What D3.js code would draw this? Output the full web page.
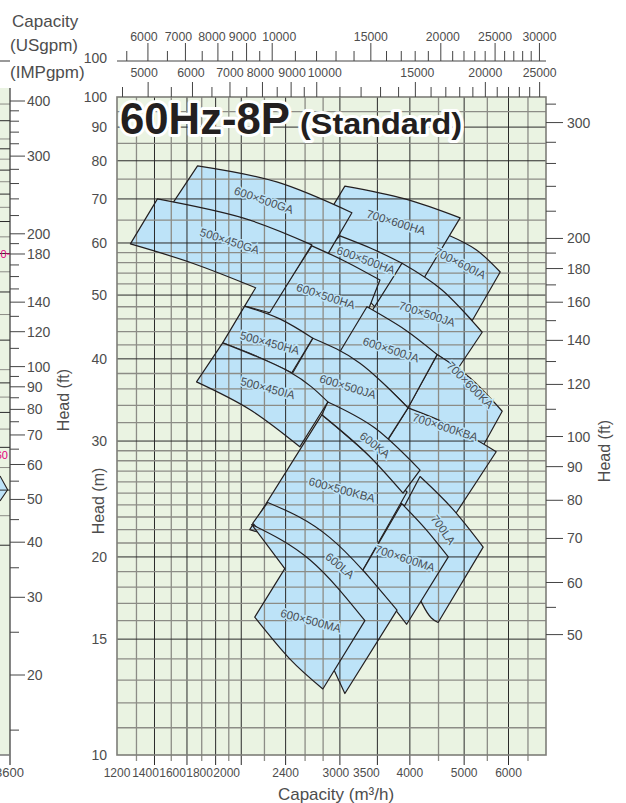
<!DOCTYPE html>
<html>
<head>
<meta charset="utf-8">
<script src="https://cdn.jsdelivr.net/npm/d3@7"></script>
<style>
  body { margin: 0; background: #fff; }
  svg { display: block; }
  text { font-family: "Liberation Sans", Arial, sans-serif; }
</style>
</head>
<body>
<svg id="chart" width="626" height="803"></svg>
<script>
// ---- axis definitions (m3/h, m) ----
const capDomain = [1200, 7000];
const headDomain = [10, 100];
const capLabels = [1200, 1400, 1600, 1800, 2000, 2400, 3000, 3500, 4000, 5000, 6000];
const capGrid = [1300, 1400, 1500, 1600, 1700, 1800, 1900, 2000, 2200, 2400, 2600, 2800, 3000,
                 3500, 4000, 4500, 5000, 5500, 6000, 6500];
const headLabels = [10, 15, 20, 30, 40, 50, 60, 70, 80, 90, 100];
const headGrid = [11, 12, 13, 14, 15, 16, 17, 18, 19, 20, 21, 22, 23, 24, 25, 26, 27, 28, 29, 30,
                  32, 34, 36, 38, 40, 42, 44, 46, 48, 50, 52, 54, 56, 58, 60, 65, 70, 75, 80, 85, 90, 95];
const ftLabels = [50, 60, 70, 80, 90, 100, 120, 140, 160, 180, 200, 300];
const ftMinor = [55, 110, 130, 150, 170, 190, 220, 240, 260, 280, 320];
const usgpmLabels = [6000, 7000, 8000, 9000, 10000, 15000, 20000, 25000, 30000];
const usgpmMinor = [5500, 6500, 7500, 8500, 9500, 11000, 12000, 13000, 14000, 16000, 17000, 18000,
                    19000, 21000, 22000, 23000, 24000, 26000, 27000, 28000, 29000];
const impLabels = [5000, 6000, 7000, 8000, 9000, 10000, 15000, 20000, 25000];
const impMinor = [4500, 5500, 6500, 7500, 8500, 9500, 11000, 12000, 13000, 14000, 16000, 17000,
                  18000, 19000, 21000, 22000, 23000, 24000];

// neighbouring 6P sheet: right-hand head scale (ft), grid (m) and the edge of one range
const sideFtLabels = [20, 30, 40, 50, 60, 70, 80, 90, 100, 120, 140, 180, 200, 300, 400];
const sideFtMinor = [15, 25, 35, 45, 55, 65, 75, 85, 95, 110, 130, 150, 160, 170, 190,
                     220, 240, 260, 280, 320, 340, 360, 380];
const sideHeadM = [12, 14, 16, 18, 20, 22, 24, 26, 28, 30, 35, 40, 45, 50, 55, 60, 65, 70, 75, 80,
                   85, 90, 95, 100, 110, 120];
const sideRangeEdge = [[3455, 56.5], [3565, 52.6], [3455, 49.6]];   // [m3/h, ft]

// ---- pump selection ranges, listed back to front ----
const pumpModels = ["700×600IA", "700×600HA", "600×500HA", "700×500JA", "600×500GA", "600×500HA",
  "500×450GA", "700×600KA", "700×600KBA", "600×500JA", "600×500JA", "500×450HA", "500×450IA",
  "600×500KBA", "600KA", "700LA", "700×600MA", "600LA", "600×500MA"];
// upper boundary (largest impeller), left to right [m3/h, m]
const maxCurve = [
  [[4681, 61.7], [5253, 58.6], [5799, 54.2]],
  [[3062, 73.2], [3921, 70.0], [4918, 65.5]],
  [[3000, 61.5], [3423, 58.8], [3873, 55.9]],
  [[3873, 55.9], [4565, 50.9], [5385, 43.9]],
  [[1671, 78.6], [2314, 74.3], [3152, 66.7]],
  [[2673, 59.4], [3075, 56.2], [3537, 52.7]],
  [[1417, 70.0], [2012, 65.5], [2673, 59.6]],
  [[4474, 40.6], [5125, 37.4], [5847, 33.3]],
  [[3970, 33.7], [4720, 31.7], [5704, 28.9]],
  [[3353, 48.0], [3921, 44.3], [4474, 40.6]],
  [[2684, 43.0], [3258, 39.4], [3970, 33.7]],
  [[2028, 48.1], [2343, 46.0], [2684, 43.0]],
  [[1853, 42.3], [2441, 38.2], [2855, 34.4]],
  [[2786, 32.9], [3325, 28.9], [3954, 25.1]],
  [[2855, 34.4], [3465, 31.4], [4171, 27.1]],
  [[4171, 26.5], [4759, 23.7], [5407, 20.7]],
  [[3868, 24.1], [4257, 22.1], [4685, 20.0]],
  [[2230, 24.2], [2879, 21.4], [3794, 16.6]],
  [[2088, 22.4], [2651, 19.8], [3325, 16.0]]
];
// lower boundary (smallest impeller), left to right [m3/h, m]
const minCurve = [
  [[4189, 52.2], [4720, 49.2], [5167, 45.7]],
  [[2695, 61.1], [3537, 57.3], [4189, 52.2]],
  [[2741, 56.7], [3126, 52.2], [3479, 47.8]],
  [[3423, 47.3], [4474, 40.6], [4858, 38.5]],
  [[1489, 67.8], [2071, 63.2], [2855, 57.7]],
  [[2175, 45.3], [2741, 41.3], [3152, 41.0]],
  [[1268, 59.8], [1637, 55.9], [2122, 51.3]],
  [[3970, 33.7], [4624, 31.2], [5296, 28.6]],
  [[3381, 27.1], [3921, 23.9], [4818, 23.2]],
  [[3000, 41.0], [3479, 37.5], [3970, 33.7]],
  [[2441, 37.4], [2820, 34.4], [3537, 28.9]],
  [[1853, 42.3], [2140, 40.3], [2462, 38.1]],
  [[1664, 36.9], [2071, 33.5], [2544, 29.4]],
  [[2071, 22.0], [2651, 20.6], [3298, 19.1]],
  [[2786, 32.9], [3325, 28.9], [3889, 25.0]],
  [[3716, 22.0], [4205, 17.0], [4493, 15.9]],
  [[3298, 19.1], [3611, 17.4], [3948, 15.8]],
  [[2096, 22.5], [2392, 19.2], [3062, 12.4]],
  [[2114, 16.2], [2441, 14.0], [2797, 12.6]]
];
// corners on the high-flow and low-flow limits, where the limit is not a single straight line
const rightBend = [null, null, null, null, null, null, [[2248, 47.0], [2028, 48.1]], null, null,
  null, null, null, null, null, null, null, null, null, null];
const leftBend = [null, null, null, null, null, null, null, null, null, null, null, null, null,
  null, null, null, null, null, [[2392, 19.2]]];
// where each model name sits [m3/h, m] and its slant in degrees
const labelAt = [[4918, 55.9], [3780, 64.5], [3339, 56.5], [4293, 46.8], [2194, 69.7], [2832, 49.8],
  [1907, 60.4], [5125, 36.5], [4624, 31.5], [3701, 41.3], [3100, 36.3], [2248, 42.3], [2230, 36.1],
  [3025, 25.3], [3465, 29.6], [4586, 22.0], [3921, 19.9], [3000, 19.4], [2662, 16.0]];
const labelTilt = [27, 17, 20, 18, 19, 18, 18, 45, 18, 18, 17, 15, 15, 15, 38, 55, 18, 40, 15];

// ---- unit factors ----
const USGPM_PER_M3H = 4.40287;
const IMPGPM_PER_M3H = 3.66615;
const FT_PER_M = 3.28084;

// small sideways nudges for crowded scale numbers (px)
const capNudge = { 1400: -9, 1600: -14.4, 1800: -16, 2000: -14.6, 3000: -4, 3500: -11 };
const usNudge = { 6000: -4, 7000: -7, 8000: -6, 9000: -4, 10000: 7, 20000: 2 };
const impNudge = { 5000: -4, 6000: -1.5, 8000: -2, 9000: 1, 10000: 8, 15000: 2 };

const svg = d3.select("#chart");
const box = { left: 117, right: 546, top: 97, bottom: 755 };
const x = d3.scaleLog().domain(capDomain).range([box.left, box.right]);
const y = d3.scaleLog().domain(headDomain).range([box.bottom, box.top]);
const yFt = d3.scaleLog().domain(headDomain.map(d => d * FT_PER_M)).range([box.bottom, box.top]);
const ySide = d3.scaleLog().domain([400, 20]).range([101, 675]);
const xSide = d3.scaleLog().domain([3600 / Math.pow(10, 0.7675), 3600]).range([-419, 10]);

const textCol = "#4d4d4d";
const darkLine = "#2a2a2a";
const greyLine = "#8c8c86";
const fillBlue = "#bde3f8";
const pink = "#e4007f";

// ---- neighbouring sheet strip on the far left ----
const side = svg.append("g");
side.append("rect").attr("x", 0).attr("y", 88).attr("width", 10).attr("height", 667).attr("fill", "#eaf3e2");
side.append("path")
  .attr("d", d3.line().x(d => xSide(d[0])).y(d => ySide(d[1]))(sideRangeEdge))
  .attr("fill", fillBlue).attr("stroke", "#231f20").attr("stroke-width", 1.1);
side.selectAll("line.sg").data(sideHeadM).join("line")
  .attr("x1", 0).attr("x2", 10)
  .attr("y1", d => ySide(d * FT_PER_M)).attr("y2", d => ySide(d * FT_PER_M))
  .attr("stroke", (d, i) => i % 2 ? greyLine : darkLine).attr("stroke-width", 1);
side.append("line").attr("x1", 10).attr("x2", 10).attr("y1", 88).attr("y2", 765).attr("stroke", "#333").attr("stroke-width", 1.2);
side.append("line").attr("x1", 0).attr("x2", 10).attr("y1", 755).attr("y2", 755).attr("stroke", "#777").attr("stroke-width", 1.5);
side.append("line").attr("x1", 0).attr("x2", 10).attr("y1", 61).attr("y2", 61).attr("stroke", "#555").attr("stroke-width", 1.2);
side.selectAll("line.st").data(sideFtLabels).join("line")
  .attr("x1", 10).attr("x2", 25).attr("y1", d => ySide(d)).attr("y2", d => ySide(d))
  .attr("stroke", "#444").attr("stroke-width", 1);
side.selectAll("line.sm").data(sideFtMinor).join("line")
  .attr("x1", 10).attr("x2", 19).attr("y1", d => ySide(d)).attr("y2", d => ySide(d))
  .attr("stroke", "#444").attr("stroke-width", 1);
side.selectAll("text.sl").data(sideFtLabels).join("text")
  .attr("x", 27).attr("y", d => ySide(d)).attr("dy", "0.36em")
  .attr("font-size", 14).attr("fill", textCol).text(d => d);
// model-size marks of the neighbouring sheet, cut by the page edge
side.append("text").attr("x", 0.5).attr("y", 258).attr("font-size", 11).attr("fill", pink).text("0");
side.append("line").attr("x1", 7).attr("x2", 10).attr("y1", 254).attr("y2", 254).attr("stroke", pink);
side.append("text").attr("x", 8).attr("y", 459).attr("text-anchor", "end").attr("font-size", 11)
  .attr("fill", pink).text("60");
side.append("text").attr("x", 24).attr("y", 777).attr("text-anchor", "end")
  .attr("font-size", 13).attr("fill", textCol).text("3600");
side.append("text").attr("transform", "translate(69,400) rotate(-90)").attr("text-anchor", "middle")
  .attr("font-size", 16).attr("fill", textCol).text("Head (ft)");

// ---- plot background ----
svg.append("rect").attr("x", box.left).attr("y", box.top)
  .attr("width", box.right - box.left).attr("height", box.bottom - box.top)
  .attr("fill", "#eaf3e2");

// ---- pump ranges ----
const edge = d3.line().x(d => x(d[0])).y(d => y(d[1])).curve(d3.curveNatural);
const pt = d => "L" + x(d[0]) + "," + y(d[1]);
function rangePath(i) {
  let p = edge(maxCurve[i]);
  if (rightBend[i]) p += rightBend[i].map(pt).join("");
  p += "L" + edge(minCurve[i].slice().reverse()).slice(1);
  if (leftBend[i]) p += leftBend[i].map(pt).join("");
  return p + "Z";
}
// fill every range first, grid on top, then outlines back to front
const fills = svg.append("g");
fills.selectAll("path").data(pumpModels).join("path")
  .attr("d", (d, i) => rangePath(i)).attr("fill", fillBlue);

// ---- grid ----
const grid = svg.append("g");
grid.selectAll("line.v").data(capGrid).join("line")
  .attr("x1", d => x(d)).attr("x2", d => x(d))
  .attr("y1", box.top).attr("y2", d => box.bottom + (capLabels.includes(d) ? 10 : 6))
  .attr("stroke", d => capLabels.includes(d) ? darkLine : greyLine)
  .attr("stroke-width", d => capLabels.includes(d) ? 1 : 1.3);
grid.selectAll("line.h").data(headGrid).join("line")
  .attr("x1", box.left).attr("x2", box.right)
  .attr("y1", d => y(d)).attr("y2", d => y(d))
  .attr("stroke", d => headLabels.includes(d) ? darkLine : greyLine)
  .attr("stroke-width", d => headLabels.includes(d) ? 1 : 1.3);
grid.append("rect").attr("x", box.left).attr("y", box.top)
  .attr("width", box.right - box.left).attr("height", box.bottom - box.top)
  .attr("fill", "none").attr("stroke", "#7d7d78").attr("stroke-width", 1.6);

// outlines: each range hides the edges of those behind it
const defs = svg.append("defs");
const outlines = svg.append("g");
pumpModels.forEach((name, i) => {
  const id = "cover" + i;
  const mask = defs.append("mask").attr("id", id).attr("maskUnits", "userSpaceOnUse")
    .attr("x", 0).attr("y", 0).attr("width", 626).attr("height", 803);
  mask.append("rect").attr("width", 626).attr("height", 803).attr("fill", "#fff");
  for (let j = i + 1; j < pumpModels.length; j++) {
    mask.append("path").attr("d", rangePath(j)).attr("fill", "#000")
      .attr("stroke", "#000").attr("stroke-width", 0.2);
  }
  outlines.append("path").attr("d", rangePath(i))
    .attr("fill", "none").attr("stroke", "#231f20").attr("stroke-width", 1.2)
    .attr("stroke-linejoin", "round").attr("mask", `url(#${id})`);
});

// ---- model names ----
svg.append("g").selectAll("text").data(pumpModels).join("text")
  .attr("transform", (d, i) => `translate(${x(labelAt[i][0])},${y(labelAt[i][1])}) rotate(${labelTilt[i]})`)
  .attr("text-anchor", "middle").attr("dy", "0.35em")
  .attr("font-size", 11.5).attr("fill", "#4a4f55")
  .attr("stroke", fillBlue).attr("stroke-width", 3).attr("paint-order", "stroke")
  .text(d => d);

// ---- left head axis (m) ----
svg.append("g").selectAll("text").data(headLabels).join("text")
  .attr("x", 107).attr("y", d => y(d)).attr("dy", "0.36em").attr("text-anchor", "end")
  .attr("font-size", 14).attr("fill", textCol).text(d => d);
svg.append("text").attr("transform", "translate(104,501) rotate(-90)").attr("text-anchor", "middle")
  .attr("font-size", 16).attr("fill", textCol).text("Head (m)");

// ---- right head axis (ft) ----
const ftAxis = svg.append("g");
ftAxis.selectAll("line.M").data(ftLabels).join("line")
  .attr("x1", box.right).attr("x2", box.right + 17).attr("y1", d => yFt(d)).attr("y2", d => yFt(d))
  .attr("stroke", "#444").attr("stroke-width", 1);
ftAxis.selectAll("line.m").data(ftMinor).join("line")
  .attr("x1", box.right).attr("x2", box.right + 10).attr("y1", d => yFt(d)).attr("y2", d => yFt(d))
  .attr("stroke", "#444").attr("stroke-width", 1);
ftAxis.selectAll("text").data(ftLabels).join("text")
  .attr("x", box.right + 21).attr("y", d => yFt(d)).attr("dy", "0.36em")
  .attr("font-size", 14).attr("fill", textCol).text(d => d);
svg.append("text").attr("transform", "translate(610,451) rotate(-90)").attr("text-anchor", "middle")
  .attr("font-size", 16).attr("fill", textCol).text("Head (ft)");

// ---- bottom capacity axis ----
svg.append("g").selectAll("text").data(capLabels).join("text")
  .attr("x", d => x(d) + (capNudge[d] || 0)).attr("y", 777).attr("text-anchor", "middle")
  .attr("font-size", 12).attr("fill", textCol)
  .text(d => d);
svg.append("text").attr("x", 336).attr("y", 800).attr("text-anchor", "middle")
  .attr("font-size", 17).attr("fill", textCol).text("Capacity (m³/h)");

// ---- US gpm scale ----
const usY = 61;
const us = svg.append("g");
us.append("line").attr("x1", box.left).attr("x2", box.right).attr("y1", usY).attr("y2", usY)
  .attr("stroke", "#444").attr("stroke-width", 1.2);
us.selectAll("line.M").data(usgpmLabels).join("line")
  .attr("x1", d => x(d / USGPM_PER_M3H)).attr("x2", d => x(d / USGPM_PER_M3H))
  .attr("y1", usY).attr("y2", usY - 18).attr("stroke", "#444");
us.selectAll("line.m").data(usgpmMinor).join("line")
  .attr("x1", d => x(d / USGPM_PER_M3H)).attr("x2", d => x(d / USGPM_PER_M3H))
  .attr("y1", usY).attr("y2", usY - 10).attr("stroke", "#444");
us.selectAll("text").data(usgpmLabels).join("text")
  .attr("x", d => x(d / USGPM_PER_M3H) + (usNudge[d] || 0)).attr("y", 41).attr("text-anchor", "middle")
  .attr("font-size", 13).attr("fill", textCol)
  .attr("textLength", d => d >= 10000 ? 34 : 27.5).attr("lengthAdjust", "spacingAndGlyphs")
  .text(d => d);

// ---- Imperial gpm scale ----
const imp = svg.append("g");
imp.selectAll("line.M").data(impLabels).join("line")
  .attr("x1", d => x(d / IMPGPM_PER_M3H)).attr("x2", d => x(d / IMPGPM_PER_M3H))
  .attr("y1", box.top).attr("y2", box.top - 15).attr("stroke", "#444");
imp.selectAll("line.m").data(impMinor).join("line")
  .attr("x1", d => x(d / IMPGPM_PER_M3H)).attr("x2", d => x(d / IMPGPM_PER_M3H))
  .attr("y1", box.top).attr("y2", box.top - 10).attr("stroke", "#444");
imp.selectAll("text").data(impLabels).join("text")
  .attr("x", d => x(d / IMPGPM_PER_M3H) + (impNudge[d] || 0)).attr("y", 77).attr("text-anchor", "middle")
  .attr("font-size", 13).attr("fill", textCol)
  .attr("textLength", d => d >= 10000 ? 34 : 27.5).attr("lengthAdjust", "spacingAndGlyphs")
  .text(d => d);

// ---- corner captions ----
const cap = svg.append("g").attr("font-size", 17).attr("fill", textCol);
cap.append("text").attr("x", 12).attr("y", 27).text("Capacity");
cap.append("text").attr("x", 10).attr("y", 51).text("(USgpm)");
cap.append("text").attr("x", 10).attr("y", 78).text("(IMPgpm)");
svg.append("text").attr("x", 107).attr("y", 63).attr("text-anchor", "end")
  .attr("font-size", 14).attr("fill", textCol).text("100");

// ---- title ----
const halo = sel => sel.attr("font-weight", "bold").attr("fill", "#231f20")
  .attr("stroke", "#fff").attr("stroke-width", 6).attr("paint-order", "stroke")
  .attr("stroke-linejoin", "round");
svg.append("text").attr("x", 120).attr("y", 134).attr("font-size", 44)
  .attr("textLength", 170).attr("lengthAdjust", "spacingAndGlyphs").call(halo).text("60Hz-8P");
svg.append("text").attr("x", 300).attr("y", 134).attr("font-size", 29)
  .attr("textLength", 162).attr("lengthAdjust", "spacingAndGlyphs").call(halo).text("(Standard)");
</script>
</body>
</html>
